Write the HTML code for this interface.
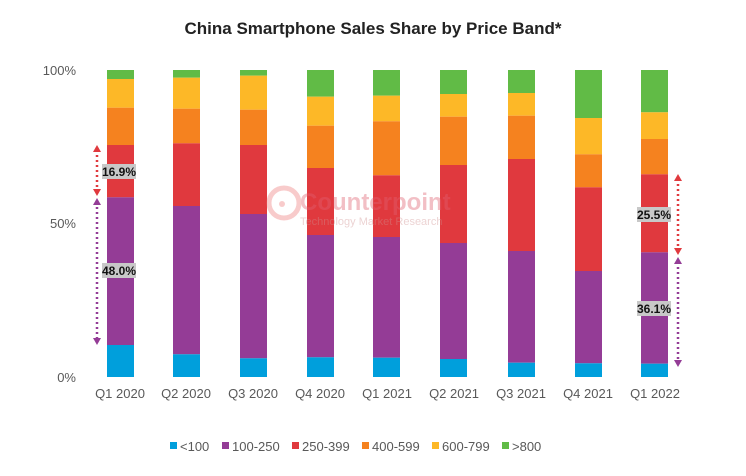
<!DOCTYPE html>
<html><head><meta charset="utf-8"><style>
body{margin:0;background:#fff;}
svg{display:block;font-family:"Liberation Sans",Arial,sans-serif;}
</style></head><body>
<svg width="746" height="476" viewBox="0 0 746 476" xmlns="http://www.w3.org/2000/svg">
<rect width="746" height="476" fill="#fff"/>
<text x="373" y="34" text-anchor="middle" font-size="17" font-weight="bold" fill="#222">China Smartphone Sales Share by Price Band*</text>
<g font-size="13" fill="#595959" text-anchor="end">
<text x="76" y="75">100%</text><text x="76" y="228">50%</text><text x="76" y="382">0%</text>
</g>
<g>
<rect x="107" y="70" width="27" height="9" fill="#61bb46"/><rect x="107" y="79" width="27" height="28.7" fill="#fdb827"/><rect x="107" y="107.7" width="27" height="37.3" fill="#f5821f"/><rect x="107" y="145" width="27" height="52.3" fill="#e0393e"/><rect x="107" y="197.3" width="27" height="147.7" fill="#943c96"/><rect x="107" y="345" width="27" height="32" fill="#009fdc"/>
<rect x="173" y="70" width="27" height="7.7" fill="#61bb46"/><rect x="173" y="77.7" width="27" height="31" fill="#fdb827"/><rect x="173" y="108.7" width="27" height="34.6" fill="#f5821f"/><rect x="173" y="143.3" width="27" height="62.7" fill="#e0393e"/><rect x="173" y="206" width="27" height="148.3" fill="#943c96"/><rect x="173" y="354.3" width="27" height="22.7" fill="#009fdc"/>
<rect x="240" y="70" width="27" height="5.7" fill="#61bb46"/><rect x="240" y="75.7" width="27" height="34" fill="#fdb827"/><rect x="240" y="109.7" width="27" height="35.3" fill="#f5821f"/><rect x="240" y="145" width="27" height="69" fill="#e0393e"/><rect x="240" y="214" width="27" height="144.3" fill="#943c96"/><rect x="240" y="358.3" width="27" height="18.7" fill="#009fdc"/>
<rect x="307" y="70" width="27" height="26.7" fill="#61bb46"/><rect x="307" y="96.7" width="27" height="29" fill="#fdb827"/><rect x="307" y="125.7" width="27" height="42.3" fill="#f5821f"/><rect x="307" y="168" width="27" height="67" fill="#e0393e"/><rect x="307" y="235" width="27" height="122.3" fill="#943c96"/><rect x="307" y="357.3" width="27" height="19.7" fill="#009fdc"/>
<rect x="373" y="70" width="27" height="25.7" fill="#61bb46"/><rect x="373" y="95.7" width="27" height="25.6" fill="#fdb827"/><rect x="373" y="121.3" width="27" height="54" fill="#f5821f"/><rect x="373" y="175.3" width="27" height="61.7" fill="#e0393e"/><rect x="373" y="237" width="27" height="120.7" fill="#943c96"/><rect x="373" y="357.7" width="27" height="19.3" fill="#009fdc"/>
<rect x="440" y="70" width="27" height="24" fill="#61bb46"/><rect x="440" y="94" width="27" height="22.7" fill="#fdb827"/><rect x="440" y="116.7" width="27" height="48.3" fill="#f5821f"/><rect x="440" y="165" width="27" height="78" fill="#e0393e"/><rect x="440" y="243" width="27" height="116" fill="#943c96"/><rect x="440" y="359" width="27" height="18" fill="#009fdc"/>
<rect x="508" y="70" width="27" height="23" fill="#61bb46"/><rect x="508" y="93" width="27" height="22.7" fill="#fdb827"/><rect x="508" y="115.7" width="27" height="43.3" fill="#f5821f"/><rect x="508" y="159" width="27" height="92" fill="#e0393e"/><rect x="508" y="251" width="27" height="111.7" fill="#943c96"/><rect x="508" y="362.7" width="27" height="14.3" fill="#009fdc"/>
<rect x="575" y="70" width="27" height="48" fill="#61bb46"/><rect x="575" y="118" width="27" height="36.3" fill="#fdb827"/><rect x="575" y="154.3" width="27" height="33" fill="#f5821f"/><rect x="575" y="187.3" width="27" height="83.7" fill="#e0393e"/><rect x="575" y="271" width="27" height="92.3" fill="#943c96"/><rect x="575" y="363.3" width="27" height="13.7" fill="#009fdc"/>
<rect x="641" y="70" width="27" height="42.3" fill="#61bb46"/><rect x="641" y="112.3" width="27" height="26.7" fill="#fdb827"/><rect x="641" y="139" width="27" height="35.3" fill="#f5821f"/><rect x="641" y="174.3" width="27" height="78" fill="#e0393e"/><rect x="641" y="252.3" width="27" height="111.4" fill="#943c96"/><rect x="641" y="363.7" width="27" height="13.3" fill="#009fdc"/>
</g>
<!-- watermark -->
<g opacity="0.4">
<circle cx="284" cy="203" r="15" fill="none" stroke="#f08080" stroke-width="5"/>
<circle cx="282" cy="204" r="3" fill="#f08080"/>
<text x="300" y="210" font-size="24" font-weight="bold" fill="#e06070">Counterpoint</text>
<text x="300" y="225" font-size="11" fill="#d09090">Technology Market Research</text>
</g>
<g font-size="13" fill="#595959" text-anchor="middle">
<text x="120" y="398">Q1 2020</text><text x="186" y="398">Q2 2020</text><text x="253" y="398">Q3 2020</text>
<text x="320" y="398">Q4 2020</text><text x="387" y="398">Q1 2021</text><text x="454" y="398">Q2 2021</text>
<text x="521" y="398">Q3 2021</text><text x="588" y="398">Q4 2021</text><text x="655" y="398">Q1 2022</text>
</g>
<g stroke-width="2.5" stroke-dasharray="2,3">
<line x1="97" y1="150" x2="97" y2="190" stroke="#e0393e"/>
<line x1="97" y1="202" x2="97" y2="340" stroke="#943c96"/>
<line x1="678" y1="179" x2="678" y2="250" stroke="#e0393e"/>
<line x1="678" y1="262" x2="678" y2="361" stroke="#943c96"/>
</g>
<polygon points="93,152 101,152 97,145" fill="#e0393e"/>
<polygon points="93,189 101,189 97,196" fill="#e0393e"/>
<polygon points="93,205 101,205 97,198" fill="#943c96"/>
<polygon points="93,338 101,338 97,345" fill="#943c96"/>
<polygon points="674,181 682,181 678,174" fill="#e0393e"/>
<polygon points="674,248 682,248 678,255" fill="#e0393e"/>
<polygon points="674,264 682,264 678,257" fill="#943c96"/>
<polygon points="674,360 682,360 678,367" fill="#943c96"/>
<g font-size="12" font-weight="bold" fill="#111" text-anchor="middle">
<rect x="102" y="164" width="34" height="15" fill="#c8c8c8"/><text x="119" y="176">16.9%</text>
<rect x="102" y="263" width="34" height="15" fill="#c8c8c8"/><text x="119" y="275">48.0%</text>
<rect x="637" y="207" width="34" height="15" fill="#c8c8c8"/><text x="654" y="219">25.5%</text>
<rect x="637" y="301" width="34" height="15" fill="#c8c8c8"/><text x="654" y="313">36.1%</text>
</g>
<g font-size="13" fill="#595959">
<rect x="170" y="442" width="7" height="7" fill="#009fdc"/><text x="180" y="451">&lt;100</text>
<rect x="222" y="442" width="7" height="7" fill="#943c96"/><text x="232" y="451">100-250</text>
<rect x="292" y="442" width="7" height="7" fill="#e0393e"/><text x="302" y="451">250-399</text>
<rect x="362" y="442" width="7" height="7" fill="#f5821f"/><text x="372" y="451">400-599</text>
<rect x="432" y="442" width="7" height="7" fill="#fdb827"/><text x="442" y="451">600-799</text>
<rect x="502" y="442" width="7" height="7" fill="#61bb46"/><text x="512" y="451">&gt;800</text>
</g>
</svg>
</body></html>
